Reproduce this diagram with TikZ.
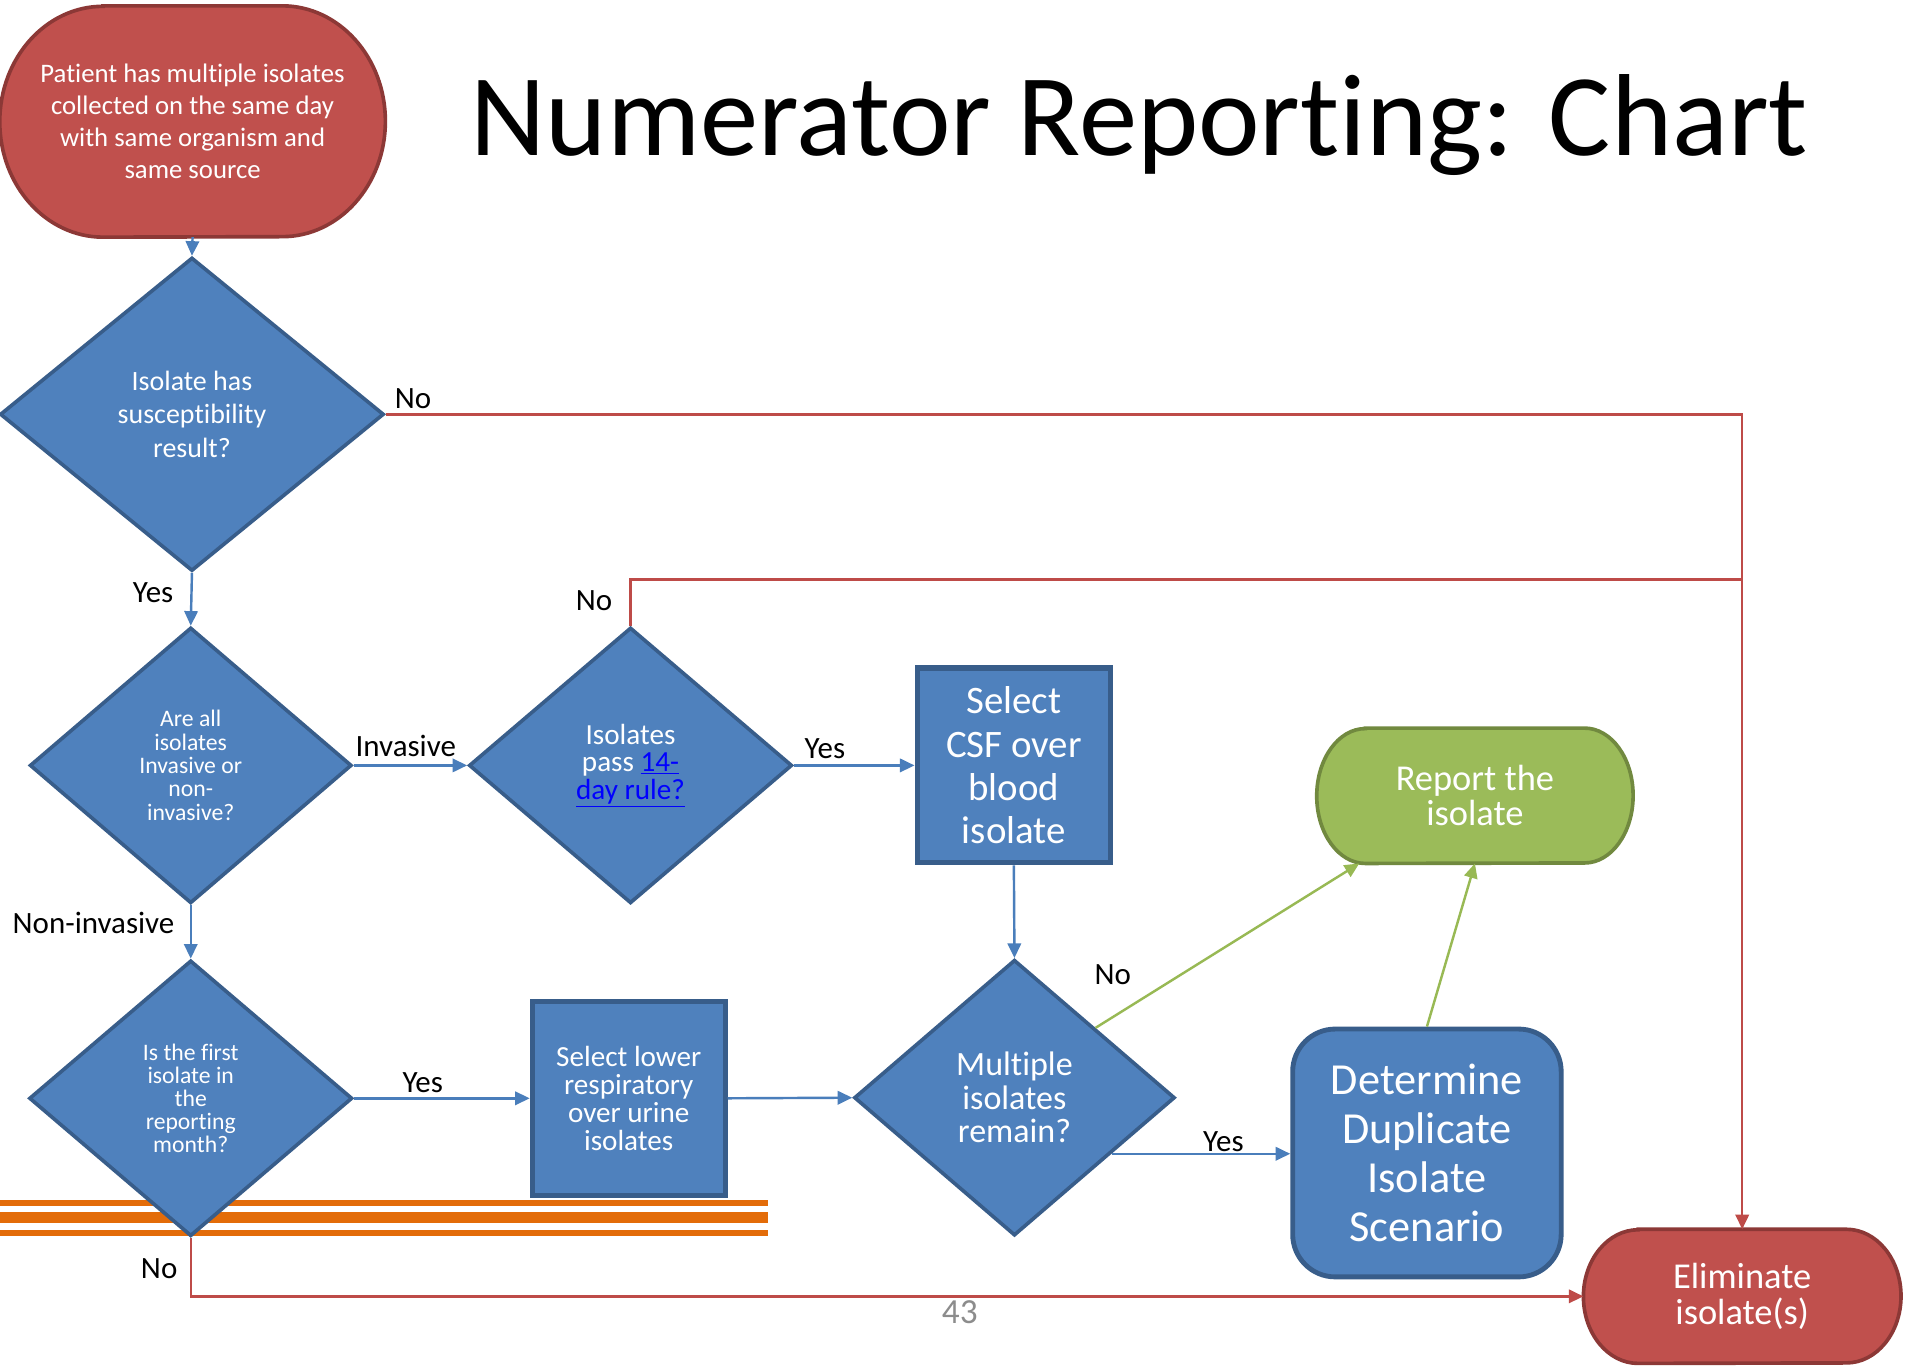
\documentclass[tikz,border=0pt]{standalone}
\usepackage{fontspec}
\setmainfont[Ligatures=NoCommon]{Carlito}
\usetikzlibrary{shapes.geometric,arrows.meta,backgrounds,calc}

\definecolor{bfill}{HTML}{4F81BD}
\definecolor{bdraw}{HTML}{385D8A}
\definecolor{rfill}{HTML}{C0504D}
\definecolor{rdraw}{HTML}{8C3836}
\definecolor{gfill}{HTML}{9BBB59}
\definecolor{gdraw}{HTML}{71893F}
\definecolor{bline}{HTML}{4A7EBB}
\definecolor{rline}{HTML}{BE4B48}
\definecolor{gline}{HTML}{98B954}
\definecolor{orng}{HTML}{E36C09}
\definecolor{lnk}{HTML}{0000FF}
\definecolor{pgnum}{HTML}{8C8C8C}
\newcommand\fsz[2]{\fontsize{#1}{#2}\selectfont}
% terminator outline with elliptical ends: node, x radius, y radius, style
\newcommand\termshape[4]{%
  \path[#4] ([xshift=#2]#1.north west) -- ([xshift=-#2]#1.north east)
    arc[start angle=90,end angle=-90,x radius=#2,y radius=#3]
    -- ([xshift=#2]#1.south west)
    arc[start angle=270,end angle=90,x radius=#2,y radius=#3] -- cycle;}

\begin{document}
\begin{tikzpicture}[x=1pt,y=1pt,
  decision/.style={shape=diamond, fill=bfill, draw=bdraw, line width=3pt,
    inner sep=0pt, text=white, align=center},
  procbox/.style={rectangle, fill=bfill, draw=bdraw, line width=4.5pt,
    inner sep=0pt, text=white, align=center},
  termbox/.style={rectangle, inner sep=0pt, text=white, align=center},
  conn/.style={line width=2pt, -{Triangle[length=12pt,width=11pt]}},
  bconn/.style={conn, draw=bline},
  rconn/.style={conn, draw=rline},
  gconn/.style={conn, draw=gline},
  rseg/.style={line width=2pt, draw=rline},
  lbl/.style={font=\fsz{25.5}{28}, inner sep=0pt, text=black},
  stripe/.style={draw=orng},
]
\useasboundingbox (0,0) rectangle (1568,-1124);

% title
\node[anchor=base west, inner sep=0pt, font=\fsz{96}{110}] (title) at (387,-128)
  {Numerator Reporting: Chart};

% terminators
\node[termbox, minimum width=317pt, minimum height=190pt, font=\fsz{22}{26.5}]
  (start) at (158.5,-100)
  {Patient has multiple isolates\\collected on the same day\\with same organism and\\same source};
\node[termbox, minimum width=260pt, minimum height=111pt, font=\fsz{30}{29}]
  (rep) at (1214,-655) {Report the\\isolate};
\node[termbox, minimum width=261pt, minimum height=110pt, font=\fsz{30}{30}]
  (elim) at (1434,-1067) {Eliminate\\isolate(s)};
\begin{scope}[on background layer]
  \fill[white] (0,0) rectangle (1568,-1124);
  \termshape{start}{85pt}{95pt}{fill=rfill, draw=rdraw, line width=3pt}
  \termshape{rep}{40pt}{55.5pt}{fill=gfill, draw=gdraw, line width=3pt}
  \termshape{elim}{45pt}{55pt}{fill=rfill, draw=rdraw, line width=3pt}
\end{scope}

% orange stripes across the lower left, behind the shapes
\draw[stripe, line width=5pt] (0,-990) -- (632,-990);
\draw[stripe, line width=9pt] (0,-1002) -- (632,-1002);
\draw[stripe, line width=5pt] (0,-1015) -- (632,-1015);

% decisions
\node[decision, minimum width=316pt, minimum height=258pt, font=\fsz{23}{27.5}]
  (d1) at (158,-341) {Isolate has\\susceptibility\\result?};
\node[decision, minimum width=265pt, minimum height=227pt, font=\fsz{19.5}{19.3}]
  (d2) at (157,-630) {Are all\\isolates\\Invasive or\\non-\\invasive?};
\node[decision, minimum width=266pt, minimum height=227pt, font=\fsz{24}{23}]
  (d3) at (519,-630)
  {Isolates\\pass \textcolor{lnk}{\underline{14-}}\\\textcolor{lnk}{\underline{day rule?}}};
\node[decision, minimum width=266pt, minimum height=227pt, font=\fsz{19.5}{19}]
  (d4) at (157,-904) {Is the first\\isolate in\\the\\reporting\\month?};
\node[decision, minimum width=264pt, minimum height=227pt, font=\fsz{28}{27.5}]
  (d5) at (835,-903.5) {Multiple\\isolates\\remain?};

% process boxes
\node[procbox, minimum width=159pt, minimum height=160pt, font=\fsz{32}{35.6}]
  (csf) at (834.5,-630) {Select\\CSF over\\blood\\isolate};
\node[procbox, line width=4pt, minimum width=159pt, minimum height=160pt, font=\fsz{24}{23}]
  (lr) at (517.5,-904) {Select lower\\respiratory\\over urine\\isolates};
\node[procbox, line width=4pt, rounded corners=35pt, minimum width=221pt,
  minimum height=204pt, font=\fsz{36.5}{40.5}]
  (det) at (1174.5,-949) {Determine\\Duplicate\\Isolate\\Scenario};

% connectors
\draw[bconn] (start.south) -- (d1.north);
\draw[rconn] (d1.east) -| (elim.north);
\draw[bconn] (d1.south) -- (d2.north);
\draw[bconn] (d2.east) -- (d3.west);
\coordinate (d3up) at ($(d3.north)+(0,38)$);
\draw[rseg] (d3.north) -- (d3up) -- (d3up -| elim.north);
\draw[bconn] (d3.east) -- (csf.west);
\draw[bconn] (csf.south) -- (d5.north);
\draw[bconn] (d2.south) -- (d4.north);
\draw[bconn] (d4.east) -- (lr.west);
\draw[bconn] (lr.east) -- (d5.west);
\draw[gconn] (d5.north east) -- ([xshift=35pt]rep.south west);
\draw[bconn] (d5.-30) -- (d5.-30 -| det.west);
\draw[gconn] (det.north) -- (rep.south);
\draw[rconn] (d4.south) |- (elim.west);

% branch labels
\node[lbl] (l1) at (340,-328) {No};
\node[lbl] (l2) at (126,-488) {Yes};
\node[lbl] (l3) at (334,-614) {Invasive};
\node[lbl] (l4) at (489,-494) {No};
\node[lbl] (l5) at (679,-616) {Yes};
\node[lbl] (l6) at (77,-760) {Non-invasive};
\node[lbl] (l7) at (348,-891) {Yes};
\node[lbl] (l8) at (916,-802) {No};
\node[lbl] (l9) at (1007,-940) {Yes};
\node[lbl] (l10) at (131,-1044) {No};

% page number
\node[font=\fsz{29}{30}, text=pgnum, inner sep=0pt] (pg) at (790,-1080) {43};
\end{tikzpicture}
\end{document}
